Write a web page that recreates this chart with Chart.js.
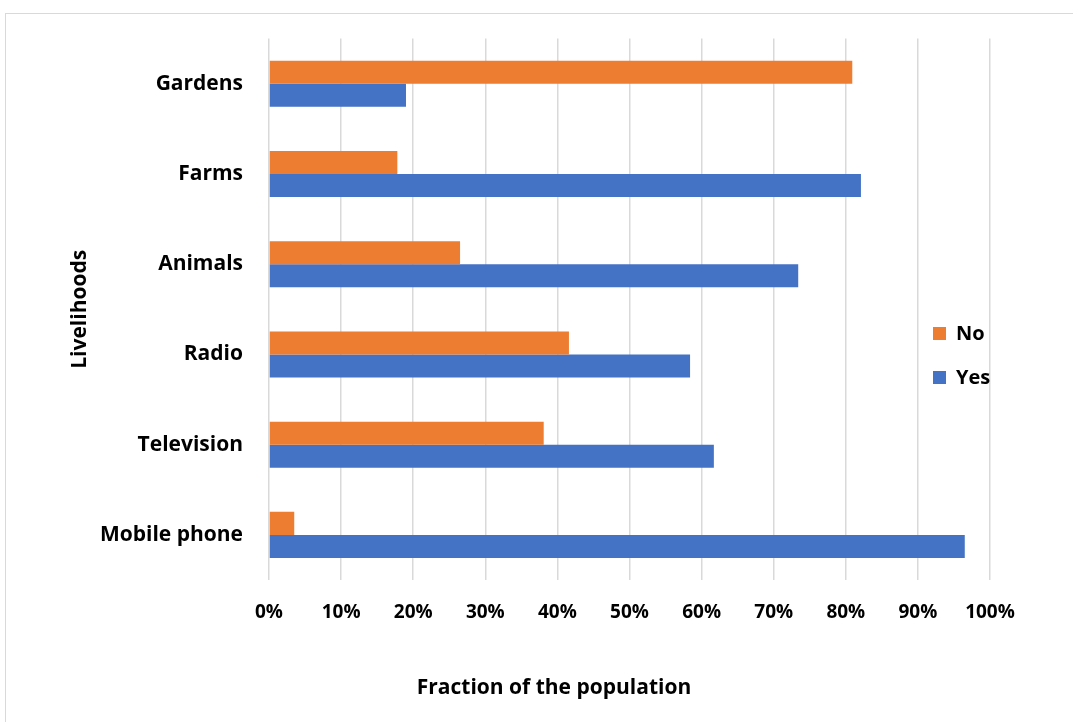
<!DOCTYPE html>
<html>
<head>
<meta charset="utf-8">
<script src="https://cdn.jsdelivr.net/npm/chart.js@4"></script>
<style>
  html, body { margin: 0; padding: 0; background: #fff; }
  #wrap { position: relative; width: 1073px; height: 722px; overflow: hidden; }
  #frame { position: absolute; left: 5px; top: 13px; width: 1100px; height: 800px; border: 1.5px solid #d9d9d9; box-sizing: border-box; }
  canvas { position: absolute; left: 0; top: 0; }
</style>
</head>
<body>
<div id="wrap">
  <div id="frame"></div>
  <canvas id="chart" width="1073" height="722"></canvas>
</div>
<script>
const categories = ['Gardens', 'Farms', 'Animals', 'Radio', 'Television', 'Mobile phone'];
const noValues = [80.9, 17.8, 26.5, 41.6, 38.1, 3.5];
const yesValues = [19.0, 82.1, 73.4, 58.4, 61.7, 96.5];
const xTicks = [0, 10, 20, 30, 40, 50, 60, 70, 80, 90, 100];
const xTitle = 'Fraction of the population';

const labelFont = { family: 'Open Sans', weight: 'bold', size: 21 };
const tickFont = { family: 'Open Sans', weight: 'bold', size: 19 };

// legend and x title drawn by hand, placed like the original
const extras = {
  id: 'extras',
  afterDraw(chart) {
    const ctx = chart.ctx;
    ctx.save();
    ctx.font = 'bold 20px "Open Sans"';
    ctx.textBaseline = 'middle';
    chart.data.datasets.forEach((ds, k) => {
      const y = 334 + k * 44;
      ctx.fillStyle = ds.backgroundColor;
      ctx.fillRect(933, y - 7, 13, 13);
      ctx.fillStyle = '#000';
      ctx.fillText(ds.label, 956, y);
    });
    ctx.font = 'bold 21px "Open Sans"';
    ctx.textAlign = 'center';
    ctx.fillText(xTitle, 554, 688);
    ctx.restore();
  }
};

new Chart(document.getElementById('chart'), {
  type: 'bar',
  data: {
    labels: categories,
    datasets: [
      { label: 'No', data: noValues, backgroundColor: '#ED7D31' },
      { label: 'Yes', data: yesValues, backgroundColor: '#4472C4' }
    ]
  },
  options: {
    indexAxis: 'y',
    responsive: false,
    animation: false,
    layout: { padding: { left: 0, top: 37, right: 83, bottom: 0 } },
    datasets: { bar: { categoryPercentage: 0.51, barPercentage: 1 } },
    plugins: { legend: { display: false }, tooltip: { enabled: false } },
    scales: {
      x: {
        min: 0,
        max: 100,
        afterBuildTicks: s => { s.ticks = xTicks.map(v => ({ value: v })); },
        grid: { color: '#d9d9d9', lineWidth: 1.5, drawTicks: false },
        border: { display: false },
        ticks: { color: '#000', font: tickFont, padding: 21, callback: v => v + '%' },
        afterFit: s => { s.height = 142; }
      },
      y: {
        grid: { display: false, drawTicks: false },
        border: { display: false },
        ticks: { color: '#000', font: labelFont, padding: 26 },
        title: { display: true, text: 'Livelihoods', color: '#000', font: labelFont, padding: { top: 67, bottom: 0 } },
        afterFit: s => { s.width = 269; }
      }
    }
  },
  plugins: [extras]
});
</script>
</body>
</html>
